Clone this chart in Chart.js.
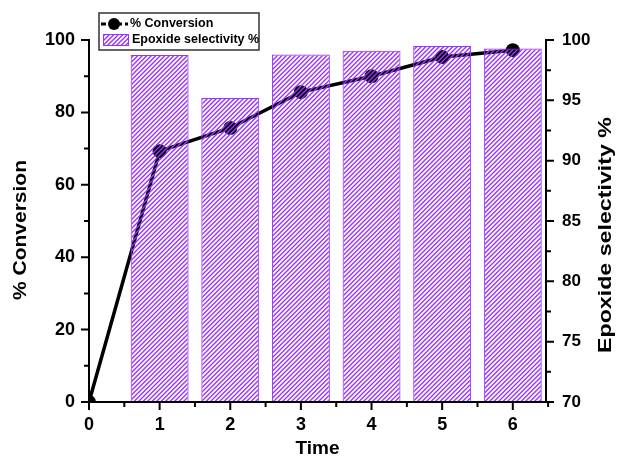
<!DOCTYPE html>
<html>
<head>
<meta charset="utf-8">
<script src="https://cdn.jsdelivr.net/npm/chart.js@4.4.1/dist/chart.umd.min.js"></script>
<style>
    html, body { margin: 0; padding: 0; background: #ffffff; }
    #wrap { width: 618px; height: 456px; }
</style>
</head>
<body>
<div id="wrap"><canvas id="epoxChart" width="618" height="456"></canvas></div>
<script>
// Data
const timePoints = [0, 1, 2, 3, 4, 5, 6];
const conversion = [0, 69.3, 75.7, 85.6, 90.0, 95.3, 97.2];
const barTimes = [1, 2, 3, 4, 5, 6];
const selectivity = [98.75, 95.2, 98.8, 99.1, 99.5, 99.3];
const xTicks = [0, 1, 2, 3, 4, 5, 6];
const leftTicks = [0, 20, 40, 60, 80, 100];
const rightTicks = [70, 75, 80, 85, 90, 95, 100];

const purple = '#9a33ff';
const fontFamily = '"Liberation Sans", Arial, sans-serif';

// Hatch pattern for the bars (transparent background so the line shows through)
function makeHatch() {
    const s = 9;
    const c = document.createElement('canvas');
    c.width = s; c.height = s;
    const g = c.getContext('2d');
    g.strokeStyle = purple;
    g.lineWidth = 1.4;
    g.beginPath();
    // lines x + y = k * 4.5, repeated so the tile wraps cleanly
    for (let k = 0; k <= 4; k++) {
        const cst = k * 4.5;
        g.moveTo(cst + 2, -2); g.lineTo(cst - s - 2, s + 2);
    }
    g.stroke();
    return document.createElement('canvas').getContext('2d').createPattern(c, 'repeat');
}
const hatch = makeHatch();

// Axis lines with major and minor ticks, Origin style
const axisFrame = {
    id: 'axisFrame',
    afterDraw(chart) {
        const ctx = chart.ctx;
        const a = chart.chartArea;
        const x = chart.scales.x, y = chart.scales.y, y2 = chart.scales.y2;
        ctx.save();
        ctx.strokeStyle = '#000';
        ctx.lineWidth = 2;
        ctx.beginPath();
        ctx.moveTo(a.left, a.top - 1); ctx.lineTo(a.left, a.bottom + 1);
        ctx.moveTo(a.right, a.top - 1); ctx.lineTo(a.right, a.bottom + 1);
        ctx.moveTo(a.left - 1, a.bottom); ctx.lineTo(a.right + 1, a.bottom);
        for (let v = 0; v <= 100; v += 10) {
            const p = y.getPixelForValue(v);
            const len = v % 20 === 0 ? 8 : 5;
            ctx.moveTo(a.left - len, p); ctx.lineTo(a.left, p);
        }
        for (let v = 70; v <= 100; v += 2.5) {
            const p = y2.getPixelForValue(v);
            const len = v % 5 === 0 ? 8 : 5;
            ctx.moveTo(a.right, p); ctx.lineTo(a.right + len, p);
        }
        for (let v = 0; v <= 6.5; v += 0.5) {
            const p = x.getPixelForValue(v);
            const len = v % 1 === 0 ? 8 : 5;
            ctx.moveTo(p, a.bottom); ctx.lineTo(p, a.bottom + len);
        }
        ctx.stroke();
        ctx.restore();
    }
};

// Vertical axis titles, both reading bottom to top
function drawVTitle(ctx, text, baseX, centerY, length) {
    ctx.save();
    ctx.font = 'bold 18px ' + fontFamily;
    const w = ctx.measureText(text).width;
    ctx.translate(baseX, centerY);
    ctx.rotate(-Math.PI / 2);
    ctx.scale(length / w, 1);
    ctx.fillStyle = '#000';
    ctx.textAlign = 'center';
    ctx.textBaseline = 'alphabetic';
    ctx.fillText(text, 0, 0);
    ctx.restore();
}
const axisTitles = {
    id: 'axisTitles',
    afterDraw(chart) {
        drawVTitle(chart.ctx, '% Conversion', 26, 230, 140);
        drawVTitle(chart.ctx, 'Epoxide selectivity %', 611, 235, 236);
    }
};

// Boxed legend in the top left corner
const boxLegend = {
    id: 'boxLegend',
    afterDraw(chart) {
        const ctx = chart.ctx;
        const sets = chart.data.datasets;
        ctx.save();
        ctx.fillStyle = '#fff';
        ctx.fillRect(99, 13, 160, 37);
        ctx.strokeStyle = '#333';
        ctx.lineWidth = 1.5;
        ctx.strokeRect(99, 13, 160, 37);

        // line + marker sample
        ctx.strokeStyle = '#000';
        ctx.lineWidth = 3;
        ctx.setLineDash([5, 3]);
        ctx.beginPath();
        ctx.moveTo(101, 24); ctx.lineTo(128, 24);
        ctx.stroke();
        ctx.setLineDash([]);
        ctx.fillStyle = '#000';
        ctx.beginPath();
        ctx.arc(114, 24, 6, 0, Math.PI * 2);
        ctx.fill();

        // hatched box sample
        ctx.fillStyle = hatch;
        ctx.fillRect(103, 34, 25, 11);
        ctx.strokeStyle = purple;
        ctx.lineWidth = 1;
        ctx.strokeRect(103.5, 34.5, 25, 11);

        ctx.fillStyle = '#000';
        ctx.font = 'bold 12.5px ' + fontFamily;
        ctx.textBaseline = 'middle';
        ctx.fillText(sets[0].label, 130, 24);
        ctx.fillText(sets[1].label, 132, 40);
        ctx.restore();
    }
};

const tickFont = { family: fontFamily, size: 18, weight: 'bold' };
const titleFont = { family: fontFamily, size: 19, weight: 'bold' };

new Chart(document.getElementById('epoxChart'), {
    type: 'line',
    data: {
        datasets: [
            {
                type: 'line',
                label: '% Conversion',
                data: timePoints.map((t, i) => ({ x: t, y: conversion[i] })),
                yAxisID: 'y',
                borderColor: '#000',
                backgroundColor: '#000',
                borderWidth: 3.5,
                pointRadius: 7,
                pointBorderWidth: 0,
                pointBackgroundColor: '#000',
                tension: 0,
                clip: 0,
                order: 1
            },
            {
                type: 'bar',
                label: 'Epoxide selectivity %',
                data: barTimes.map((t, i) => ({ x: t, y: selectivity[i] })),
                yAxisID: 'y2',
                backgroundColor: hatch,
                borderColor: purple,
                borderWidth: 1,
                barPercentage: 1,
                categoryPercentage: 0.82,
                order: 0
            }
        ]
    },
    options: {
        responsive: false,
        animation: false,
        devicePixelRatio: 1,
        layout: { padding: { top: 40, left: 0, right: 0, bottom: 0 } },
        plugins: {
            legend: { display: false },
            tooltip: { enabled: false }
        },
        scales: {
            x: {
                type: 'linear',
                min: 0,
                max: 6.47,
                offset: false,
                grid: { display: false, drawTicks: false },
                border: { display: false },
                afterBuildTicks: s => { s.ticks = xTicks.map(v => ({ value: v })); },
                afterFit: s => { s.height = 54; },
                ticks: { color: '#000', font: tickFont, padding: 12, maxRotation: 0 },
                title: { display: true, text: 'Time', color: '#000', font: titleFont, padding: { top: 0, bottom: -4 } }
            },
            y: {
                position: 'left',
                min: 0,
                max: 100,
                grid: { display: false, drawTicks: false },
                border: { display: false },
                afterBuildTicks: s => { s.ticks = leftTicks.map(v => ({ value: v })); },
                afterFit: s => { s.width = 89; },
                ticks: { color: '#000', font: tickFont, padding: 14 }
            },
            y2: {
                position: 'right',
                min: 70,
                max: 100,
                grid: { display: false, drawTicks: false },
                border: { display: false },
                afterBuildTicks: s => { s.ticks = rightTicks.map(v => ({ value: v })); },
                afterFit: s => { s.width = 72; },
                ticks: { color: '#000', font: { family: fontFamily, size: 17, weight: 'bold' }, padding: 16 }
            }
        }
    },
    plugins: [axisFrame, axisTitles, boxLegend]
});
</script>
</body>
</html>
